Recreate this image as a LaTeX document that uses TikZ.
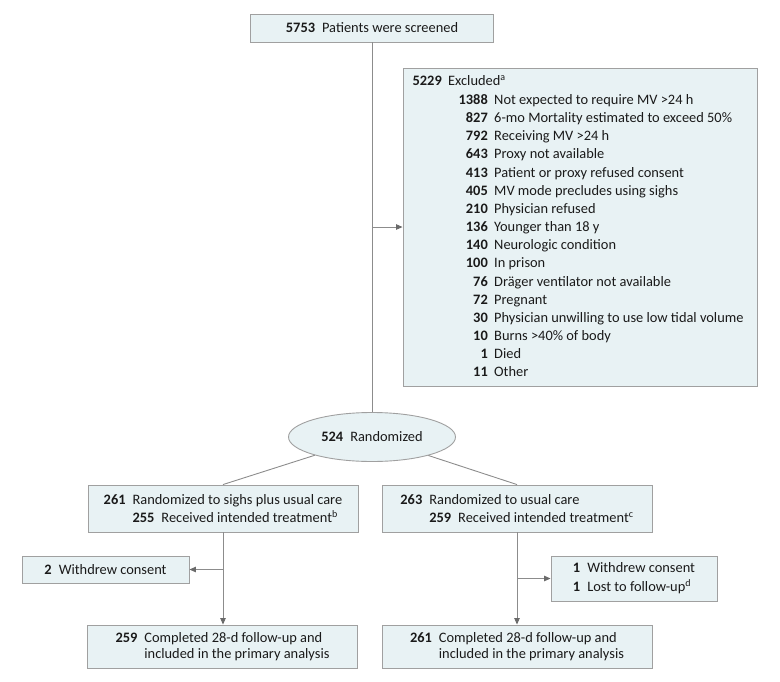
\documentclass[tikz,border=0pt]{standalone}
\usepackage{fontspec}
\setmainfont{Carlito}
\usetikzlibrary{arrows.meta,shapes.geometric}
\definecolor{boxfill}{HTML}{E8F2F4}
\definecolor{boxdraw}{HTML}{A0A0A0}
\definecolor{linec}{HTML}{8C8C8C}
\definecolor{tipc}{HTML}{6A6A6A}
\definecolor{textc}{HTML}{1A1A1A}
\newcommand{\gp}{\hspace{7pt}}
\begin{document}
\begin{tikzpicture}[x=1pt,y=-1pt,
  font=\fontsize{14.4}{18}\selectfont,
  every node/.style={text=textc},
  box/.style={draw=boxdraw, fill=boxfill, line width=0.9pt, inner sep=0pt, align=left},
  conn/.style={draw=linec, line width=0.9pt},
  arr/.style={conn, -{Triangle[length=6.5pt,width=5.5pt,color=tipc]}}]
\useasboundingbox (0,0) rectangle (780,681);
% top
\node[box, minimum width=243pt, minimum height=28pt] (top) at (372,28) {\textbf{5753}\gp Patients were screened};
% excluded
\node[box, minimum width=354pt, minimum height=318pt] (ex) at (580,227) {};
\node[anchor=base east, inner sep=0pt] (exn0) at (442,85.5) {\textbf{5229}};
\node[anchor=base west, inner sep=0pt] (ext0) at (448,85.5) {Excluded\textsuperscript{a}};
\foreach \n/\t [count=\i] in {1388/{Not expected to require MV >24 h},
  827/{6-mo Mortality estimated to exceed 50\%},
  792/{Receiving MV >24 h},
  643/{Proxy not available},
  413/{Patient or proxy refused consent},
  405/{MV mode precludes using sighs},
  210/{Physician refused},
  136/{Younger than 18 y},
  140/{Neurologic condition},
  100/{In prison},
  76/{Dräger ventilator not available},
  72/{Pregnant},
  30/{Physician unwilling to use low tidal volume},
  10/{Burns >40\% of body},
  1/{Died},
  11/{Other}}{
  \node[anchor=base east, inner sep=0pt] (exn\i) at (488,{104.5+18.15*(\i-1)}) {\textbf{\n}};
  \node[anchor=base west, inner sep=0pt] (ext\i) at (494,{104.5+18.15*(\i-1)}) {\t};
}
% randomized
\node[ellipse, draw=boxdraw, fill=boxfill, line width=0.9pt, inner sep=0pt,
  minimum width=167pt, minimum height=49pt] (ell) at (372,437) {\textbf{524}\gp Randomized};
% arms
\node[box, minimum width=270pt, minimum height=47pt] (L) at (223,508.5)
  {\textbf{261}\gp Randomized to sighs plus usual care\\
   \phantom{\textbf{261}\gp}\textbf{255}\gp Received intended treatment\textsuperscript{b}};
\node[box, minimum width=270pt, minimum height=47pt] (R) at (517,508.5)
  {\textbf{263}\gp Randomized to usual care\\
   \phantom{\textbf{263}\gp}\textbf{259}\gp Received intended treatment\textsuperscript{c}};
% withdrawals
\node[box, minimum width=167pt, minimum height=27pt] (W1) at (105.5,569.5)
  {\textbf{2}\gp Withdrew consent};
\node[box, minimum width=166pt, minimum height=45pt, font=\fontsize{14.4}{19}\selectfont] (W2) at (634,578.5)
  {\textbf{1}\gp Withdrew consent\\\textbf{1}\gp Lost to follow-up\textsuperscript{d}};
% bottom
\node[box, minimum width=270pt, minimum height=43pt, font=\fontsize{14.4}{15.5}\selectfont] (BL) at (222.5,646.5)
  {\textbf{259}\gp Completed 28-d follow-up and\\
   \phantom{\textbf{259}\gp}included in the primary analysis};
\node[box, minimum width=270pt, minimum height=43pt, font=\fontsize{14.4}{15.5}\selectfont] (BR) at (517,646.5)
  {\textbf{261}\gp Completed 28-d follow-up and\\
   \phantom{\textbf{261}\gp}included in the primary analysis};
% connectors
\coordinate (b1) at (372,227);
\draw[conn] (top.south) -- (ell.north);
\draw[arr] (b1) -- (ex.west |- b1);
\draw[conn] (ell) -- (L.north);
\draw[conn] (ell) -- (R.north);
\coordinate (b2) at (223,569.5);
\coordinate (b3) at (517,578.5);
\draw[arr] (L.south) -- (BL.north -| L.south);
\draw[arr] (b2) -- (W1.east |- b2);
\draw[arr] (R.south) -- (BR.north);
\draw[arr] (b3) -- (W2.west |- b3);
\end{tikzpicture}
\end{document}
